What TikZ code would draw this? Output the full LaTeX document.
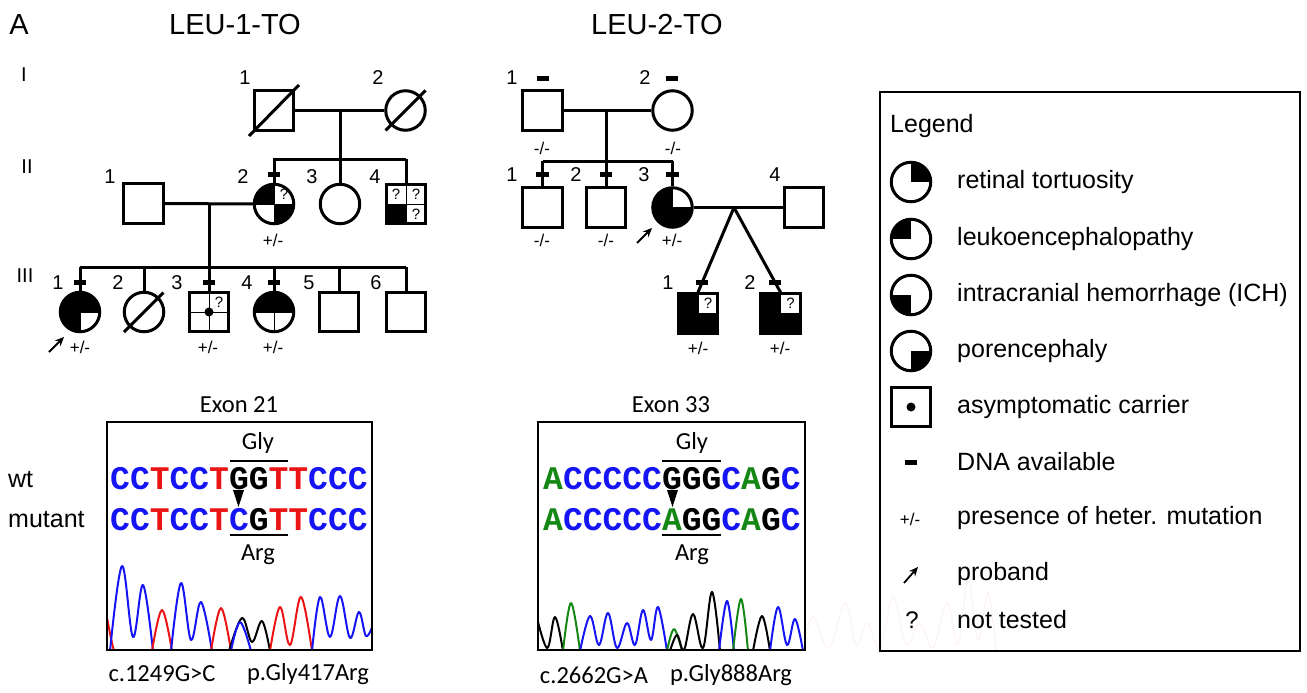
\documentclass[tikz,border=0pt]{standalone}
\usepackage{fontspec}
\setmainfont{Liberation Sans}
\newfontfamily\calfont{Carlito}
\newfontfamily\seqfont{Liberation Mono}
\usetikzlibrary{calc,arrows.meta}
\definecolor{sB}{RGB}{20,20,245}
\definecolor{sR}{RGB}{235,20,20}
\definecolor{sG}{RGB}{20,135,20}
\definecolor{ghost}{RGB}{253,244,247}
\newcommand\seqB[1]{\textcolor{sB}{#1}}
\newcommand\seqR[1]{\textcolor{sR}{#1}}
\newcommand\seqG[1]{\textcolor{sG}{#1}}
\newcommand\seqK[1]{\textcolor{black}{#1}}
\begin{document}
\begin{tikzpicture}[x=1pt,y=-1pt,
  lw/.style={line width=3pt},
  m/.style={rectangle,draw,line width=3pt,minimum size=39.5pt,inner sep=0pt,fill=white},
  f/.style={circle,draw,line width=3pt,minimum size=39.5pt,inner sep=0pt,fill=white},
  qf/.style={path picture={\foreach \a in {#1}{\fill[black] (path picture bounding box.center) rectangle (path picture bounding box.\a);}}},
  qd/.style={path picture={\foreach \a in {#1}{\fill[black] (path picture bounding box.center) rectangle (path picture bounding box.\a);}\draw[line width=0.9pt] (path picture bounding box.north)--(path picture bounding box.south) (path picture bounding box.west)--(path picture bounding box.east);}},
  dv/.style={path picture={\draw[line width=0.9pt] (path picture bounding box.north)--(path picture bounding box.south) (path picture bounding box.west)--(path picture bounding box.east);}},
  tick/.style={rectangle,fill=black,minimum width=12.5pt,minimum height=5pt,inner sep=0pt},
  num/.style={font=\fontsize{20}{21}\selectfont,inner sep=0pt},
  gen/.style={font=\fontsize{20}{21}\selectfont,inner sep=0pt},
  pm/.style={font=\fontsize{17}{18}\selectfont,inner sep=0pt},
  qm/.style={font=\fontsize{15}{15}\selectfont,inner sep=0pt},
  ttl/.style={font=\fontsize{29}{30}\selectfont,inner sep=0pt},
  leg/.style={font=\fontsize{25}{28}\selectfont,inner sep=0pt,anchor=west},
  cal/.style={font=\calfont\fontsize{24.5}{26}\selectfont,inner sep=0pt},
  seq/.style={font=\seqfont\bfseries\fontsize{33}{33}\selectfont,inner sep=0pt,anchor=west},
  arr/.style={line width=1.8pt,-{Stealth[length=9pt,width=8pt]}},
  cw/.style={line width=2pt,line join=round}
]
\useasboundingbox (0,0) rectangle (1307,693);

% titles
\node[ttl] (tA) at (19,25) {A};
\node[ttl] (t1) at (235,25) {LEU-1-TO};
\node[ttl] (t2) at (657,25) {LEU-2-TO};
\node[gen] (gI) at (24,75) {I};
\node[gen] (gII) at (27,167) {II};
\node[gen] (gIII) at (25,276) {III};

% ================= LEU-1-TO =================
\node[m] (aI1) at (274,110.5) {};
\node[f] (aI2) at (405.5,110.5) {};
\draw[lw] ($(aI1.center)+(-25,25.5)$) -- ($(aI1.center)+(25,-25.5)$);
\draw[lw] ($(aI2.center)+(-20,20)$) -- ($(aI2.center)+(20,-20)$);
\node[num] (naI1) at (245,78) {1};
\node[num] (naI2) at (378,78) {2};
\coordinate (am1) at (340,110.5);
\coordinate (as1) at (340,159);
\draw[lw] (aI1) -- (aI2);
\draw[lw] (am1) -- (as1);

\node[m] (aII1) at (143.5,203.5) {};
\node[f,qd={north west,south east}] (aII2) at (274,204) {};
\node[f] (aII3) at (340,204) {};
\node[m,qd={south west}] (aII4) at (406,204) {};
\node[qm] (qaII2) at ($(aII2.center)+(10,-10)$) {?};
\node[qm] (qaII4a) at ($(aII4.center)+(-10,-10)$) {?};
\node[qm] (qaII4b) at ($(aII4.center)+(10,-10)$) {?};
\node[qm] (qaII4c) at ($(aII4.center)+(10,10)$) {?};
\node[num] (naII1) at (110,177) {1};
\node[num] (naII2) at (243,177) {2};
\node[num] (naII3) at (312,177) {3};
\node[num] (naII4) at (375,177) {4};
\coordinate (asl1) at (273,159);
\coordinate (asr1) at (406,159);
\draw[lw] (asl1) -- (asr1);
\draw[lw] (aII2.north |- as1) -- (aII2);
\draw[lw] (aII3.north |- as1) -- (aII3);
\draw[lw] (aII4.north |- as1) -- (aII4);
\node[tick] (taII2) at (274,174) {};
\node[pm] (paII2) at (273,240) {+/-};

\coordinate (am2) at (209,204);
\coordinate (as2) at (209,267);
\draw[lw] (aII1) -- (aII2);
\draw[lw] (am2) -- (as2);
\coordinate (asl2) at (80,267);
\coordinate (asr2) at (406,267);
\draw[lw] (asl2) -- (asr2);

\node[f,qd={north west,north east,south west}] (aIII1) at (80,312) {};
\node[f] (aIII2) at (144,312) {};
\draw[lw] ($(aIII2.center)+(-20,20)$) -- ($(aIII2.center)+(19.5,-19.5)$);
\node[m,dv] (aIII3) at (209,312) {};
\fill (aIII3.center) circle (4.5);
\node[qm] (qaIII3) at ($(aIII3.center)+(10,-10)$) {?};
\node[f,qd={north west,north east}] (aIII4) at (274,312) {};
\node[m] (aIII5) at (339,312) {};
\node[m] (aIII6) at (406,312) {};
\foreach \n in {aIII1,aIII2,aIII3,aIII4,aIII5,aIII6}{\draw[lw] (\n.north |- as2) -- (\n);}
\node[tick] (taIII1) at (80,282) {};
\node[tick] (taIII3) at (209,282) {};
\node[tick] (taIII4) at (274,282) {};
\node[num] (naIII1) at (58,283) {1};
\node[num] (naIII2) at (118,283) {2};
\node[num] (naIII3) at (177,283) {3};
\node[num] (naIII4) at (247,283) {4};
\node[num] (naIII5) at (309,283) {5};
\node[num] (naIII6) at (376,283) {6};
\node[pm] (paIII1) at (80,347) {+/-};
\node[pm] (paIII3) at (208,347) {+/-};
\node[pm] (paIII4) at (273,347) {+/-};
\coordinate (arA1) at (49,352);
\coordinate (arA2) at (64,337);
\draw[arr] (arA1) -- (arA2);

% ================= LEU-2-TO =================
\node[m] (bI1) at (542.5,110.5) {};
\node[f] (bI2) at (672.5,110.5) {};
\node[tick] (tbI1) at (543,79) {};
\node[tick] (tbI2) at (672,79) {};
\node[num] (nbI1) at (512,78) {1};
\node[num] (nbI2) at (645,78) {2};
\node[pm] (pbI1) at (542,148) {-/-};
\node[pm] (pbI2) at (673,148) {-/-};
\coordinate (bm1) at (606,110.5);
\coordinate (bs1) at (606,161);
\draw[lw] (bI1) -- (bI2);
\draw[lw] (bm1) -- (bs1);
\coordinate (bsl1) at (542.5,161);
\coordinate (bsr1) at (672.5,161);
\draw[lw] (bsl1) -- (bsr1);

\node[m] (bII1) at (542.5,207.5) {};
\node[m] (bII2) at (606,207.5) {};
\node[f,qd={north west,south west,south east}] (bII3) at (672.5,207.5) {};
\node[m] (bII4) at (804,207.5) {};
\foreach \n in {bII1,bII2,bII3}{\draw[lw] (\n.north |- bs1) -- (\n);}
\node[tick] (tbII1) at (542.5,174) {};
\node[tick] (tbII2) at (606,174) {};
\node[tick] (tbII3) at (672.5,174) {};
\node[num] (nbII1) at (512,175) {1};
\node[num] (nbII2) at (576,175) {2};
\node[num] (nbII3) at (644,175) {3};
\node[num] (nbII4) at (775,175) {4};
\node[pm] (pbII1) at (542,240) {-/-};
\node[pm] (pbII2) at (606,240) {-/-};
\node[pm] (pbII3) at (672,240) {+/-};
\coordinate (arB1) at (637,243);
\coordinate (arB2) at (652,228);
\draw[arr] (arB1) -- (arB2);
\draw[lw] (bII3) -- (bII4);
\coordinate (bap) at (734,207.5);

\node[m,qd={north west,south west,south east}] (bIII1) at (698,313.5) {};
\node[m,qd={north west,south west,south east}] (bIII2) at (780.5,313.5) {};
\node[qm] (qbIII1) at ($(bIII1.center)+(10,-10)$) {?};
\node[qm] (qbIII2) at ($(bIII2.center)+(10,-10)$) {?};
\draw[lw] (bap) -- (bIII1.north);
\draw[lw] (bap) -- (bIII2.north);
\node[tick] (tbIII1) at (702,282) {};
\node[tick] (tbIII2) at (775,282) {};
\node[num] (nbIII1) at (668,283) {1};
\node[num] (nbIII2) at (750,283) {2};
\node[pm] (pbIII1) at (698,348) {+/-};
\node[pm] (pbIII2) at (780,348) {+/-};

% ================= ghost trace =================
\draw[ghost,line width=1.5pt] plot[smooth,tension=0.6] coordinates {(805,640) (813,617) (829,648) (845,603) (856,645) (867,623) (880,648) (893,597) (906,645) (920,623) (933,648) (947,603) (958,645) (968,580) (978,640) (988,593) (996,650)};

% ================= Exon 21 =================
\node[cal] (ex21) at (239,405) {Exon 21};
\node[cal] (gly1) at (258,443) {Gly};
\node[cal] (arg1) at (258,555) {Arg};
\node[seq] (wt1) at (110,479) {\seqB{CC}\seqR{T}\seqB{CC}\seqR{T}\seqK{GG}\seqR{TT}\seqB{CCC}};
\node[seq] (mu1) at (110,520) {\seqB{CC}\seqR{T}\seqB{CC}\seqR{T}\seqB{C}\seqK{G}\seqR{TT}\seqB{CCC}};
\node[font=\fontsize{25}{28}\selectfont,inner sep=0pt,anchor=west] (wtl) at (8,480) {wt};
\node[font=\fontsize{25}{28}\selectfont,inner sep=0pt,anchor=west] (mul) at (8,520) {mutant};
\draw[line width=2pt] (229.5,461) -- (288,461);
\draw[line width=2pt] (229.5,535) -- (288,535);
\fill (233,490) -- (244,490) -- (238.5,507) -- cycle;
\begin{scope}
\clip (107,422) rectangle (372,650);
\draw[sR,cw] plot[smooth,tension=0.6] coordinates {(106,612) (110.5,636) (114,651)};
\draw[sB,cw] plot[smooth,tension=0.6] coordinates {(110,651) (122,566) (133,637) (143,585) (153,651)};
\draw[sR,cw] plot[smooth,tension=0.6] coordinates {(152,651) (162,610) (172,651)};
\draw[sB,cw] plot[smooth,tension=0.6] coordinates {(171,651) (181,583) (191,640) (201,602) (212,651)};
\draw[sR,cw] plot[smooth,tension=0.6] coordinates {(211,651) (221,608) (231,651)};
\draw[black,cw] plot[smooth,tension=0.6] coordinates {(229,651) (242,618) (252,642) (262,621) (270,651)};
\draw[sB,cw] plot[smooth,tension=0.6] coordinates {(231,651) (240,622) (251,651)};
\draw[sR,cw] plot[smooth,tension=0.6] coordinates {(270,651) (280,607) (290,645) (301,597) (312,651)};
\draw[sB,cw] plot[smooth,tension=0.6] coordinates {(312,651) (320,597) (330,637) (340,596) (350,638) (359,612) (366,636) (373,625)};
\end{scope}
\draw[line width=2pt] (107,422) rectangle (372,650);
\node[cal] (mut1) at (162,674) {c.1249G>C};
\node[cal] (pro1) at (308,674) {p.Gly417Arg};

% ================= Exon 33 =================
\node[cal] (ex33) at (671,405) {Exon 33};
\node[cal] (gly2) at (692,443) {Gly};
\node[cal] (arg2) at (692,555) {Arg};
\node[seq] (wt2) at (543,479) {\seqG{A}\seqB{CCCCC}\seqK{GGG}\seqB{C}\seqG{A}\seqK{G}\seqB{C}};
\node[seq] (mu2) at (543,520) {\seqG{A}\seqB{CCCCC}\seqG{A}\seqK{GG}\seqB{C}\seqG{A}\seqK{G}\seqB{C}};
\draw[line width=2pt] (662,461) -- (721,461);
\draw[line width=2pt] (662,535) -- (721,535);
\fill (667,490) -- (678,490) -- (672.5,507) -- cycle;
\begin{scope}
\clip (538,422) rectangle (805,650);
\draw[black,cw] plot[smooth,tension=0.6] coordinates {(535,610) (547,648) (555,617) (563,651)};
\draw[sG,cw] plot[smooth,tension=0.6] coordinates {(563,651) (571,603) (580,651)};
\draw[sB,cw] plot[smooth,tension=0.6] coordinates {(580,651) (590,616) (599,645) (608,613) (617,648) (627,623) (635,645) (643,610) (651,640) (658,607) (667,651)};
\draw[sG,cw] plot[smooth,tension=0.6] coordinates {(667,651) (674,629) (682,651)};
\draw[black,cw] plot[smooth,tension=0.6] coordinates {(670,651) (677,635) (684,650) (693,614) (703,648) (712,592) (720,651)};
\draw[sB,cw] plot[smooth,tension=0.6] coordinates {(719,651) (727,601) (734,651)};
\draw[sG,cw] plot[smooth,tension=0.6] coordinates {(733,651) (741,599) (748,651)};
\draw[black,cw] plot[smooth,tension=0.6] coordinates {(753,651) (762,616) (770,651)};
\draw[sB,cw] plot[smooth,tension=0.6] coordinates {(770,651) (778,607) (787,645) (795,619) (803,651)};
\end{scope}
\draw[line width=2pt] (538,422) rectangle (805,650);
\node[cal] (mut2) at (594,675) {c.2662G>A};
\node[cal] (pro2) at (731,675) {p.Gly888Arg};

% ================= Legend =================
\draw[line width=1.6pt] (880,92) rectangle (1300,651);
\node[leg] (lgT) at (890,126) {Legend};
\node[f,qf={north east}] (lg1) at (911,182) {};
\node[leg] (lgt1) at (957,182) {retinal tortuosity};
\node[f,qf={north west}] (lg2) at (911,239) {};
\node[leg] (lgt2) at (957,239) {leukoencephalopathy};
\node[f,qf={south west}] (lg3) at (911,295) {};
\node[leg] (lgt3) at (957,295) {intracranial hemorrhage (ICH)};
\node[f,qf={south east}] (lg4) at (911,351) {};
\node[leg] (lgt4) at (957,351) {porencephaly};
\node[m] (lg5) at (911,407) {};
\fill (lg5.center) circle (4.5);
\node[leg] (lgt5) at (957,407) {asymptomatic carrier};
\node[tick] (lg6) at (911,462) {};
\node[leg] (lgt6) at (957,462) {DNA available};
\node[pm] (lg7) at (910,519) {+/-};
\node[leg] (lgt7) at (957,518) {presence of heter. mutation};
\coordinate (lgar1) at (904,583);
\coordinate (lgar2) at (918,567);
\draw[arr] (lgar1) -- (lgar2);
\node[leg] (lgt8) at (957,574) {proband};
\node[font=\fontsize{24}{26}\selectfont,inner sep=0pt] (lg9) at (912,620) {?};
\node[leg] (lgt9) at (957,620) {not tested};
\end{tikzpicture}
\end{document}
